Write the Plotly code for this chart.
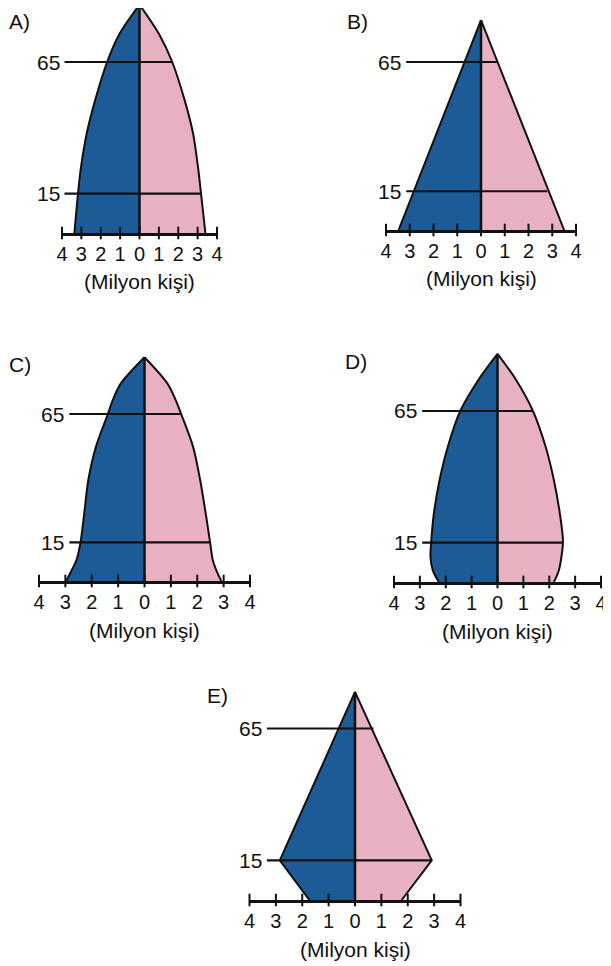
import plotly.graph_objects as go

# page body has an 8 px margin; the figure is sized/positioned to compensate
OFF = 8
W, H = 611 - OFF, 966 - OFF

# ---------------- data ----------------
tick_vals = [-4, -3, -2, -1, 0, 1, 2, 3, 4]
tick_text = ["4", "3", "2", "1", "0", "1", "2", "3", "4"]
line_ages = [15, 65]
axis_title = "(Milyon kişi)"
panel_names = ["A)", "B)", "C)", "D)", "E)"]

# A
A_age = [0, 16, 25, 38, 50.5, 65, 75.7, 86.8]
A_male = [3.36, 3.16, 3.02, 2.72, 2.29, 1.67, 1.03, 0]
A_female = [3.40, 3.16, 3.02, 2.76, 2.33, 1.69, 1.00, 0]
A_line_end = [3.16, 1.69]
A_line_start = -3.87

# B
B_age = [0, 81.2]
B_male = [3.47, 0]
B_female = [3.50, 0]
B_line_end = [2.79, 0.67]
B_line_start = -3.15

# C
C_age = [0, 4.2, 8.1, 14.8, 25, 39.3, 52.3, 65, 70.5, 77, 87.1]
C_male = [2.97, 2.76, 2.58, 2.43, 2.30, 2.13, 1.84, 1.39, 1.20, 0.89, 0]
C_female = [2.91, 2.72, 2.59, 2.49, 2.34, 2.11, 1.84, 1.39, 1.18, 0.86, 0]
C_line_end = [2.49, 1.39]
C_line_start = -2.85

# D
D_age = [0, 4.4, 9.5, 15.6, 26, 38.7, 51.4, 65, 76.8, 86.7]
D_male = [2.27, 2.50, 2.59, 2.56, 2.46, 2.24, 1.92, 1.44, 0.74, 0]
D_female = [2.18, 2.37, 2.47, 2.53, 2.41, 2.18, 1.86, 1.37, 0.72, 0]
D_line_end = [2.53, 1.37]
D_line_start = -2.91

# E
E_age = [0, 15, 78.9]
E_male = [1.73, 2.85, 0]
E_female = [1.77, 2.91, 0]
E_line_end = [2.91, 0.70]
E_line_start = -3.34

# ---------------- styling / layout (pixels in the 611x966 picture) ----------------
BLUE = "#1d5b97"
PINK = "#e7b1c1"
INK = "#111111"
FONT = "Liberation Sans"

panels = [
    dict(name=panel_names[0], age=A_age, m=A_male, f=A_female, le=A_line_end, ls=A_line_start,
         xl=62, xr=217, yax=233, y65=62, lab=(7, 21), spline=True),
    dict(name=panel_names[1], age=B_age, m=B_male, f=B_female, le=B_line_end, ls=B_line_start,
         xl=386, xr=576, yax=230, y65=62, lab=(345, 21), spline=False),
    dict(name=panel_names[2], age=C_age, m=C_male, f=C_female, le=C_line_end, ls=C_line_start,
         xl=39, xr=250, yax=581, y65=414, lab=(7, 364), spline=True),
    dict(name=panel_names[3], age=D_age, m=D_male, f=D_female, le=D_line_end, ls=D_line_start,
         xl=394, xr=601, yax=582, y65=411, lab=(343, 362), spline=True),
    dict(name=panel_names[4], age=E_age, m=E_male, f=E_female, le=E_line_end, ls=E_line_start,
         xl=249.5, xr=460.5, yax=900, y65=728.5, lab=(205, 695), spline=False),
]


def px(v):
    return v / W


def py(v):
    return 1 - v / H


fig = go.Figure()
annotations = []
layout = dict(
    template="none",
    width=W, height=H, autosize=False,
    margin=dict(l=0, r=0, t=0, b=0, pad=0, autoexpand=False),
    paper_bgcolor="white", plot_bgcolor="rgba(0,0,0,0)",
    showlegend=False,
    font=dict(family=FONT, color=INK),
)

for i, p in enumerate(panels):
    k = "" if i == 0 else str(i + 1)
    xa, ya = "x" + k, "y" + k
    xl, xr = p["xl"] - OFF, p["xr"] - OFF
    yax, y65 = p["yax"] - OFF, p["y65"] - OFF
    scale = (yax - y65) / 65.0
    ytop_px = max(0.0, yax - 95 * scale)
    ytop = (yax - ytop_px) / scale

    layout["xaxis" + k] = dict(
        domain=[px(xl), px(xr)], range=[-4, 4], anchor=ya, automargin=False,
        showline=True, linecolor=INK, linewidth=2.5,
        showgrid=False, zeroline=False,
        tickmode="array", tickvals=tick_vals, ticktext=tick_text,
        ticks="outside", ticklen=1, tickcolor="rgba(0,0,0,0)",
        tickfont=dict(size=20, family=FONT, color=INK),
    )
    layout["yaxis" + k] = dict(
        domain=[py(yax), py(ytop_px)], range=[0, ytop], anchor=xa, automargin=False,
        visible=False, showgrid=False, zeroline=False,
    )

    shape = "spline" if p["spline"] else "linear"
    apex = p["age"][-1]
    fig.add_trace(go.Scatter(
        x=[-v for v in p["m"]], y=p["age"], xaxis=xa, yaxis=ya, mode="lines",
        line=dict(color=INK, width=2, shape=shape, smoothing=0.9),
        fill="tozerox", fillcolor=BLUE, cliponaxis=False, hoverinfo="skip"))
    fig.add_trace(go.Scatter(
        x=p["f"], y=p["age"], xaxis=xa, yaxis=ya, mode="lines",
        line=dict(color=INK, width=2, shape=shape, smoothing=0.9),
        fill="tozerox", fillcolor=PINK, cliponaxis=False, hoverinfo="skip"))
    fig.add_trace(go.Scatter(
        x=[0, 0], y=[0, apex], xaxis=xa, yaxis=ya, mode="lines",
        line=dict(color=INK, width=2.5), cliponaxis=False, hoverinfo="skip"))
    for age, end in zip(line_ages, p["le"]):
        fig.add_trace(go.Scatter(
            x=[p["ls"], end], y=[age, age], xaxis=xa, yaxis=ya, mode="lines",
            line=dict(color=INK, width=2.2), cliponaxis=False, hoverinfo="skip"))
        annotations.append(dict(
            x=p["ls"], y=age, xref=xa, yref=ya, text=str(age), showarrow=False,
            xanchor="right", yanchor="middle", xshift=-3,
            font=dict(size=21, family=FONT, color=INK)))
    fig.add_trace(go.Scatter(
        x=tick_vals, y=[0] * len(tick_vals), xaxis=xa, yaxis=ya, mode="markers",
        marker=dict(symbol="line-ns", size=9, line=dict(color=INK, width=2)),
        cliponaxis=False, hoverinfo="skip"))
    annotations.append(dict(
        x=0, y=py(yax + 49), xref=xa, yref="paper", text=axis_title,
        showarrow=False, xanchor="center", yanchor="middle",
        font=dict(size=21, family=FONT, color=INK)))
    annotations.append(dict(
        x=px(p["lab"][0] - OFF), y=py(p["lab"][1] - OFF), xref="paper", yref="paper",
        text=p["name"], showarrow=False, xanchor="left", yanchor="middle",
        font=dict(size=21, family=FONT, color=INK)))

layout["annotations"] = annotations
fig.update_layout(**layout)
fig.write_html("out.html")
